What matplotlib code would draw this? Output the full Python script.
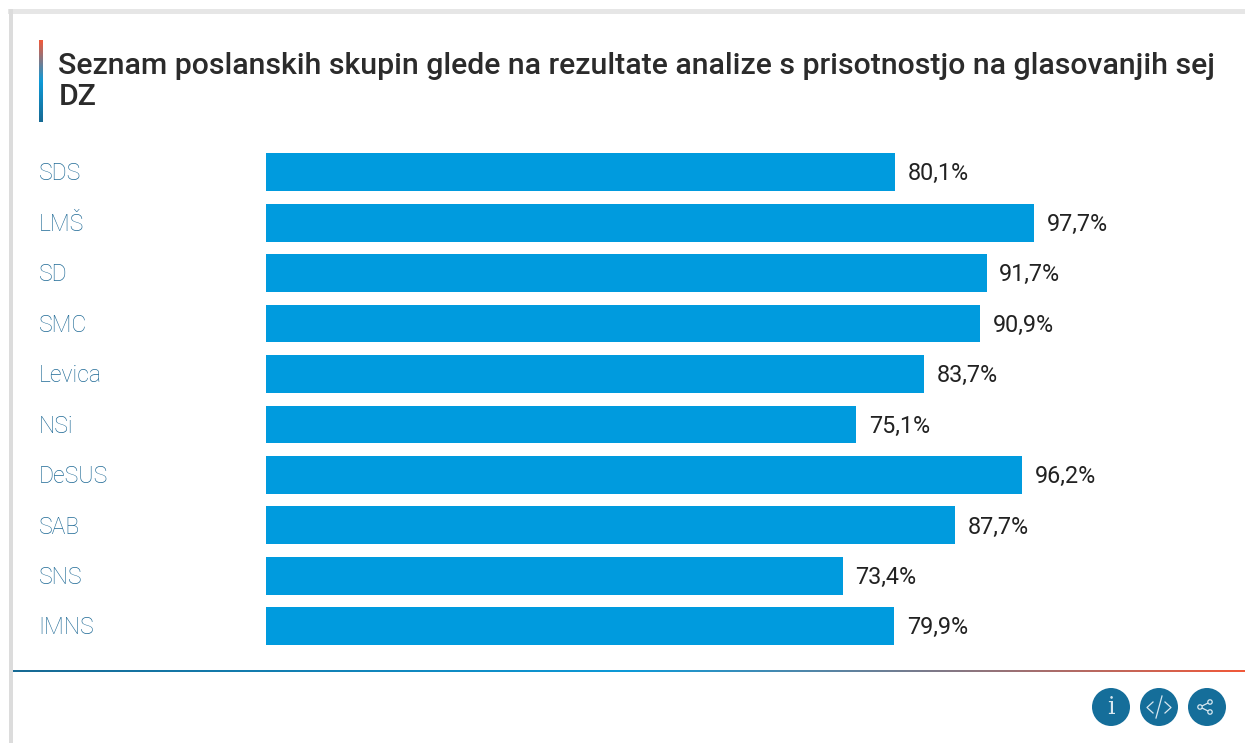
import numpy as np
import matplotlib
matplotlib.use("Agg")
import matplotlib.pyplot as plt
from matplotlib.patches import Circle, Rectangle
from matplotlib.colors import LinearSegmentedColormap

categories = ["SDS", "LMŠ", "SD", "SMC", "Levica", "NSi", "DeSUS", "SAB", "SNS", "IMNS"]
values = [80.1, 97.7, 91.7, 90.9, 83.7, 75.1, 96.2, 87.7, 73.4, 79.9]
title_text = "Seznam poslanskih skupin glede na rezultate analize s prisotnostjo na glasovanjih sej\nDZ"

W, H = 1245, 743
plt.rcParams['font.family'] = ['Roboto', 'DejaVu Sans']
fig = plt.figure(figsize=(W / 100, H / 100), dpi=100, facecolor='white')

# pixel-space overlay
bg = fig.add_axes([0, 0, 1, 1])
bg.set_xlim(0, W); bg.set_ylim(H, 0); bg.axis('off')
bg.add_patch(Rectangle((8, 9), W, 5, color='#e6e6e6', lw=0))
bg.add_patch(Rectangle((9, 9), 4, H, color='#dcdcdc', lw=0))

# gradient accent bar
acc = LinearSegmentedColormap.from_list('a', ['#f0593a', '#0d9ad8', '#176a94'])
bg.imshow(np.linspace(0, 1, 100)[:, None], cmap=acc, extent=(38.5, 42.5, 122, 40), aspect='auto', zorder=2)
bg.set_xlim(0, W); bg.set_ylim(H, 0)

# gradient footer rule
rule = LinearSegmentedColormap.from_list('r', ['#176a94', '#0d9ad8', '#f0593a'])
bg.imshow(np.linspace(0, 1, 400)[None, :], cmap=rule, extent=(13, W, 672, 670.8), aspect='auto', zorder=2)
bg.set_xlim(0, W); bg.set_ylim(H, 0)

bg.text(58.5, 81.5, title_text, fontsize=21.8, color='#2b2b2b', va='center', ha='left',
        linespacing=1.12, fontweight='medium')

# bars
ax = fig.add_axes([266 / W, 1 - 651.5 / H, 785.8 / W, (651.5 - 147) / H])
ax.patch.set_alpha(0)
y = np.arange(len(categories))
ax.barh(y, values, height=0.75, color='#009bde', linewidth=0)
ax.set_xlim(0, 100); ax.set_ylim(len(categories) - 0.5, -0.5)
ax.set_xticks([]); ax.set_yticks([])
for s in ax.spines.values():
    s.set_visible(False)
for yi, v in zip(y, values):
    ax.annotate(f"{v:.1f}%".replace('.', ','), (v, yi), xytext=(9.2, -1.2), textcoords='offset points',
                va='center', ha='left', fontsize=16.8, color='#222222')
for yi, c in zip(y, categories):
    ax.annotate(c, (0, yi), xytext=(38.5, -1.2), textcoords=('figure pixels', 'offset points'),
                va='center', ha='left', fontsize=16.6, color='#1f6a96', fontweight='light')

# footer icons
ic = '#156e9a'
for cx in (1111, 1159, 1207):
    bg.add_patch(Circle((cx, 707), 19, color=ic, lw=0, zorder=3))
bg.text(1111, 707, "i", color='#d8e8f0', fontsize=17, family='DejaVu Serif', ha='center', va='center', zorder=4,
        fontweight='light')
lw = 0.9; lc = '#d8e8f0'
bg.plot([1153, 1147, 1153], [702, 707.5, 713], color=lc, lw=lw, zorder=4)
bg.plot([1165, 1171, 1165], [702, 707.5, 713], color=lc, lw=lw, zorder=4)
bg.plot([1156, 1162], [718, 696], color=lc, lw=lw, zorder=4)
bg.plot([1210, 1200, 1210], [702, 707, 712], color=lc, lw=lw, zorder=4)
for p in [(1210, 702), (1200, 707), (1210, 712)]:
    bg.add_patch(Circle(p, 2.2, facecolor=ic, edgecolor=lc, lw=lw, zorder=5))

fig.savefig("out.png", dpi=100)
